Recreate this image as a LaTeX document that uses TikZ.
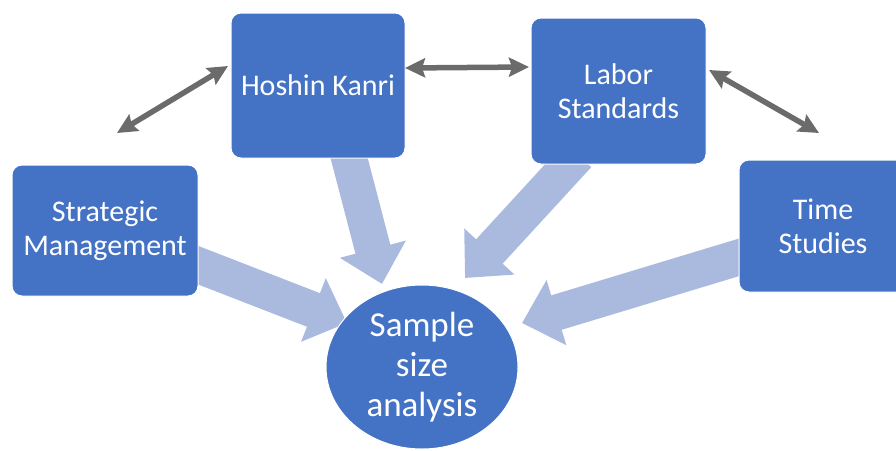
\documentclass[tikz,border=0pt]{standalone}
\usepackage{fontspec}
\setmainfont{Carlito}
\usetikzlibrary{arrows.meta,shapes.geometric}
\definecolor{boxblue}{HTML}{4472C4}
\definecolor{flowblue}{HTML}{AABADE}
\definecolor{linkgray}{HTML}{6B6B6B}
\begin{document}
\begin{tikzpicture}[x=1pt,y=-1pt,
  card/.style={rectangle, rounded corners=10pt, fill=boxblue, draw=white, line width=1pt,
    text=white, align=center, inner sep=0pt, font=\fontsize{30}{34}\selectfont},
  hub/.style={ellipse, fill=boxblue, draw=white, line width=1pt, text=white, align=center,
    inner sep=0pt, minimum width=192pt, minimum height=164pt, font=\fontsize{35}{40}\selectfont},
  flow/.style={draw=flowblue, line width=36pt, -{Triangle[length=36pt,width=66pt]}},
  link/.style={draw=linkgray, line width=5.5pt,
    {Stealth[length=20pt,width=19pt,inset=3pt]}-{Stealth[length=20pt,width=19pt,inset=3pt]}}]
\useasboundingbox (0,0) rectangle (896,450);
\clip (0,0) rectangle (896,450);
% named anchor points for the block arrows
\coordinate (hkfrom) at (347,150);
\coordinate (hkto) at (382,284);
\coordinate (lsfrom) at (578,155);
\coordinate (lsto) at (465,278);
\coordinate (smfrom) at (190,262);
\coordinate (smto) at (347,323);
\coordinate (tsfrom) at (750,254);
\coordinate (tsto) at (522,323);
\draw[flow] (hkfrom) -- (hkto);
\draw[flow] (lsfrom) -- (lsto);
\draw[flow] (smfrom) -- (smto);
\draw[flow] (tsfrom) -- (tsto);
% boxes
\node[card, minimum width=174pt, minimum height=145pt] (hk) at (318,85.5) {Hoshin Kanri};
\node[card, minimum width=186pt, minimum height=131pt] (sm) at (105,230.5) {Strategic\\Management};
\node[card, minimum width=175pt, minimum height=146pt] (ls) at (618.5,91) {Labor\\Standards};
\node[card, minimum width=168pt, minimum height=132pt] (ts) at (823,226) {Time\\Studies};
\node[hub] (ss) at (422,367) {Sample\\size\\analysis};
% gray double arrows
\coordinate (l1a) at (117,133);
\coordinate (l1b) at (228,66);
\coordinate (l2a) at (405,68);
\coordinate (l2b) at (529,67);
\coordinate (l3a) at (709,70);
\coordinate (l3b) at (819,133);
\draw[link] (l1a) -- (l1b);
\draw[link] (l2a) -- (l2b);
\draw[link] (l3a) -- (l3b);
\end{tikzpicture}
\end{document}
